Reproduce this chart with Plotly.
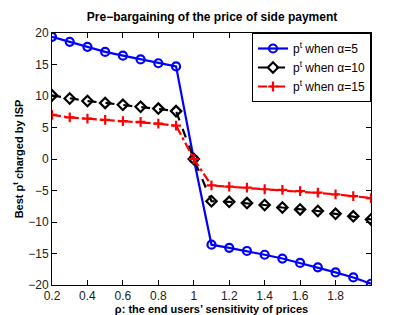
import plotly.graph_objects as go

rho = [0.2, 0.3, 0.4, 0.5, 0.6, 0.7, 0.8, 0.9, 1.0, 1.1, 1.2, 1.3, 1.4, 1.5, 1.6, 1.7, 1.8, 1.9, 2.0]
p_alpha5 = [19.4, 18.6, 17.8, 17.0, 16.4, 15.8, 15.2, 14.7, 0.0,
            -13.6, -14.1, -14.6, -15.2, -15.8, -16.5, -17.2, -18.0, -18.8, -19.8]
p_alpha10 = [10.1, 9.6, 9.2, 8.9, 8.6, 8.3, 8.0, 7.6, 0.0,
             -6.7, -6.8, -7.0, -7.3, -7.7, -8.0, -8.25, -8.7, -9.1, -9.6]
p_alpha15 = [7.0, 6.6, 6.4, 6.2, 6.0, 5.9, 5.6, 5.3, 0.0,
             -4.2, -4.4, -4.55, -4.8, -4.9, -5.1, -5.35, -5.6, -5.9, -6.2]
names = ["p<sup>t</sup> when α=5", "p<sup>t</sup> when α=10", "p<sup>t</sup> when α=15"]
x_ticks = [0.2, 0.4, 0.6, 0.8, 1.0, 1.2, 1.4, 1.6, 1.8]
x_tick_text = ["0.2", "0.4", "0.6", "0.8", "1", "1.2", "1.4", "1.6", "1.8"]
y_ticks = [-20, -15, -10, -5, 0, 5, 10, 15, 20]

font = "Liberation Sans, Arial, sans-serif"

fig = go.Figure()
fig.add_trace(go.Scatter(
    x=rho, y=p_alpha5, name=names[0], mode="lines+markers",
    line=dict(color="#0000ff", width=2.2),
    marker=dict(symbol="circle-open", size=8, color="#0000ff", line=dict(width=2.2, color="#0000ff")),
))
fig.add_trace(go.Scatter(
    x=rho, y=p_alpha10, name=names[1], mode="lines+markers",
    line=dict(color="black", width=2.2, dash="dash"),
    marker=dict(symbol="diamond-open", size=8, color="black", line=dict(width=2.2, color="black")),
))
fig.add_trace(go.Scatter(
    x=rho, y=p_alpha15, name=names[2], mode="lines+markers",
    line=dict(color="#ff0000", width=2.2, dash="dashdot"),
    marker=dict(symbol="cross-thin-open", size=7, color="#ff0000", line=dict(width=2.2, color="#ff0000")),
))

axis_common = dict(
    showline=True, linecolor="black", linewidth=1, mirror="ticks",
    ticks="inside", ticklen=5, tickcolor="black", showgrid=False, zeroline=False,
    automargin=False,
    tickfont=dict(family=font, size=12, color="#222"),
)
fig.update_xaxes(range=[0.2, 2.0], tickvals=x_ticks, ticktext=x_tick_text,
                 title=dict(text="<b>ρ: the end users’ sensitivity of prices</b>",
                            font=dict(family=font, size=11, color="black"), standoff=0),
                 **axis_common)
fig.update_yaxes(range=[-20, 20], tickvals=y_ticks,
                 title=dict(text="<b>Best p<sup>t</sup> charged by ISP</b>",
                            font=dict(family=font, size=11, color="black"), standoff=2),
                 **axis_common)
fig.update_layout(
    width=385, height=307,
    margin=dict(l=44, r=22, t=25, b=30, autoexpand=False),
    paper_bgcolor="white", plot_bgcolor="white",
    title=dict(text="<b>Pre−bargaining of the price of side payment</b>",
               font=dict(family=font, size=12, color="black"),
               x=0.53, xanchor="center", y=0.971, yanchor="middle"),
    legend=dict(x=1, y=1, xanchor="right", yanchor="top",
                bordercolor="black", borderwidth=1, bgcolor="white",
                font=dict(family=font, size=12, color="black"),
                tracegroupgap=0, itemwidth=30),
    showlegend=True,
)
fig.write_html("out.html")
